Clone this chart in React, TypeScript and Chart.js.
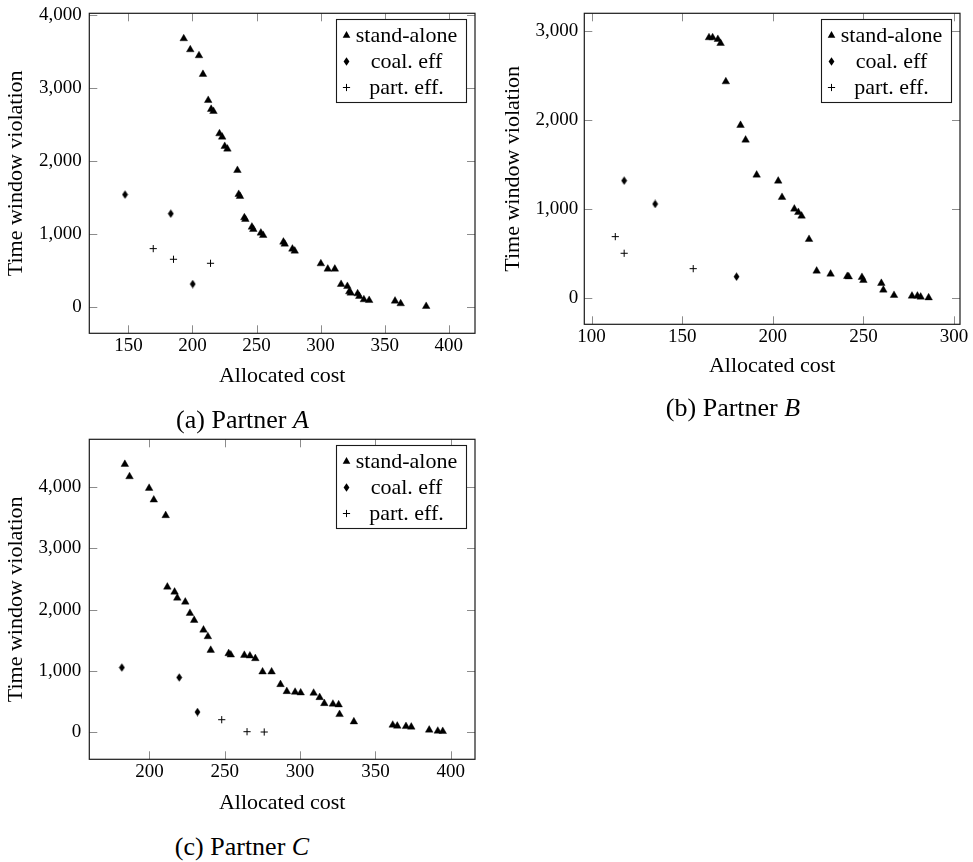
import React, { useEffect, useRef } from 'react';
import { Chart, registerables } from 'chart.js';
Chart.register(...registerables);

// ---------- text ----------
const seriesLabels = ['stand-alone', 'coal. eff', 'part. eff.'];
const xAxisTitle = 'Allocated cost';
const yAxisTitle = 'Time window violation';

// ---------- Partner A ----------
const aStandCost = [193.2, 198.3, 205.1, 208.2, 212.3, 214.6, 216.4, 221.1, 223.2, 225.2, 227.3, 235.1, 236.1, 237.1, 240.5, 241.3, 246.4, 247.5, 253.4, 255.2, 271.0, 272.0, 278.0, 279.8, 300.2, 305.6, 311.1, 316.0, 320.9, 322.4, 323.5, 328.9, 330.2, 333.8, 337.9, 358.1, 362.5, 382.4];
const aStandViol = [3680, 3529, 3447, 3191, 2834, 2711, 2683, 2377, 2331, 2203, 2167, 1874, 1545, 1518, 1225, 1202, 1097, 1065, 1015, 983, 891, 864, 795, 768, 594, 521, 521, 311, 283, 210, 192, 183, 146, 101, 91, 82, 46, 9];
const aCoalCost = [147.4, 183.1, 200.2];
const aCoalViol = [1541, 1280, 315];
const aPartCost = [169.4, 185.2, 214.1];
const aPartViol = [800, 654, 599];
const aXRange = [119.5, 420.5];
const aYRange = [-361, 4027];
const aXTicks = [150, 200, 250, 300, 350, 400];
const aYTicks = [0, 1000, 2000, 3000, 4000];

// ---------- Partner B ----------
const bStandCost = [164.8, 166.8, 169.7, 171.2, 174.1, 182.2, 185.0, 191.1, 203.0, 205.1, 211.9, 214.1, 215.9, 220.0, 224.2, 231.9, 241.1, 241.9, 249.2, 250.0, 259.9, 261.0, 266.9, 276.8, 279.8, 281.6, 286.0];
const bStandViol = [2929, 2929, 2910, 2865, 2434, 1944, 1779, 1386, 1318, 1135, 1004, 966, 925, 663, 307, 273, 247, 243, 236, 202, 169, 94, 34, 26, 26, 15, 7];
const bCoalCost = [118.0, 135.1, 180.0];
const bCoalViol = [1322, 1060, 243];
const bPartCost = [113.1, 118.0, 156.1];
const bPartViol = [693, 506, 333];
const bXRange = [96, 303.3];
const bYRange = [-292, 3202];
const bXTicks = [100, 150, 200, 250, 300];
const bYTicks = [0, 1000, 2000, 3000];

// ---------- Partner C ----------
const cStandCost = [183.7, 186.8, 199.8, 202.9, 210.8, 211.9, 216.7, 218.5, 223.8, 226.9, 229.7, 235.9, 238.8, 240.7, 252.6, 254.0, 263.0, 266.7, 270.3, 275.1, 281.1, 287.0, 291.2, 296.7, 300.4, 309.0, 313.0, 316.1, 321.8, 325.6, 326.2, 335.7, 361.5, 364.5, 370.3, 373.8, 385.7, 391.4, 394.7];
const cStandViol = [4375, 4174, 3984, 3793, 3538, 2370, 2288, 2190, 2125, 1940, 1826, 1668, 1560, 1337, 1283, 1261, 1255, 1245, 1201, 984, 984, 777, 663, 652, 641, 636, 565, 467, 457, 446, 288, 168, 114, 98, 92, 82, 33, 16, 11];
const cCoalCost = [181.7, 219.8, 231.9];
const cCoalViol = [1054, 891, 326];
const cPartCost = [248.0, 264.8, 276.2];
const cPartViol = [201, 5, 0];
const cXRange = [160.1, 416.1];
const cYRange = [-446, 4783];
const cXTicks = [200, 250, 300, 350, 400];
const cYTicks = [0, 1000, 2000, 3000, 4000];

const SERIF = '"Liberation Serif", "Times New Roman", serif';
const TITLE_SIZE = 22;
const TICK_SIZE = 19;
const LEGEND_SIZE = 22;
const CAPTION_SIZE = 26;

type Geo = {
  left: number; top: number; width: number; height: number;
  plotLeft: number; plotTop: number; plotRight: number; plotBottom: number;
  yTitleX: number; xTitleY: number; yTickPad: number;
};

type PanelData = {
  standX: number[]; standY: number[];
  coalX: number[]; coalY: number[];
  partX: number[]; partY: number[];
  xRange: number[]; yRange: number[];
  xTicks: number[]; yTicks: number[];
};

function makeDiamond(): HTMLCanvasElement {
  const c = document.createElement('canvas');
  c.width = 7; c.height = 9;
  const g = c.getContext('2d')!;
  g.fillStyle = '#000';
  g.beginPath();
  g.moveTo(3.5, 0.2); g.lineTo(6.4, 4.5); g.lineTo(3.5, 8.8); g.lineTo(0.6, 4.5);
  g.closePath(); g.fill();
  return c;
}

function drawMarker(ctx: CanvasRenderingContext2D, ds: any, x: number, y: number) {
  const st = ds.pointStyle;
  const r = ds.pointRadius;
  ctx.save();
  if (st === 'triangle') {
    ctx.fillStyle = '#000';
    ctx.beginPath();
    ctx.moveTo(x, y - r);
    ctx.lineTo(x + 0.866 * r, y + 0.5 * r);
    ctx.lineTo(x - 0.866 * r, y + 0.5 * r);
    ctx.closePath(); ctx.fill();
  } else if (st === 'cross') {
    ctx.strokeStyle = '#000'; ctx.lineWidth = 1;
    ctx.beginPath();
    ctx.moveTo(x - r, y); ctx.lineTo(x + r, y);
    ctx.moveTo(x, y - r); ctx.lineTo(x, y + r);
    ctx.stroke();
  } else if (st && st.width) {
    ctx.drawImage(st, x - st.width / 2, y - st.height / 2);
  }
  ctx.restore();
}

const framePlugin = {
  id: 'pgfFrame',
  beforeDatasetsDraw(chart: any) {
    const { ctx, chartArea: a, scales } = chart;
    const tl = 8;
    ctx.save();
    ctx.strokeStyle = '#8c8c8c';
    ctx.lineWidth = 1;
    ctx.beginPath();
    scales.x.ticks.forEach((t: any) => {
      const px = Math.round(scales.x.getPixelForValue(t.value)) + 0.5;
      ctx.moveTo(px, a.bottom); ctx.lineTo(px, a.bottom - tl);
      ctx.moveTo(px, a.top); ctx.lineTo(px, a.top + tl);
    });
    scales.y.ticks.forEach((t: any) => {
      const py = Math.round(scales.y.getPixelForValue(t.value)) + 0.5;
      ctx.moveTo(a.left, py); ctx.lineTo(a.left + tl, py);
      ctx.moveTo(a.right, py); ctx.lineTo(a.right - tl, py);
    });
    ctx.stroke();
    ctx.restore();
  },
  afterDatasetsDraw(chart: any) {
    const { ctx, chartArea: a } = chart;
    ctx.save();
    ctx.strokeStyle = '#1a1a1a';
    ctx.lineWidth = 1.2;
    ctx.strokeRect(a.left, a.top, a.right - a.left, a.bottom - a.top);

    // legend box (pgfplots style, north east inside)
    const w = 130, h = 83;
    const x0 = Math.round(a.right - 9 - w) + 0.5;
    const y0 = Math.round(a.top + 6) + 0.5;
    ctx.fillStyle = '#fff';
    ctx.fillRect(x0, y0, w, h);
    ctx.lineWidth = 1.1;
    ctx.strokeRect(x0, y0, w, h);
    ctx.font = `${LEGEND_SIZE}px ${SERIF}`;
    ctx.fillStyle = '#000';
    ctx.textAlign = 'center';
    ctx.textBaseline = 'middle';
    chart.data.datasets.forEach((ds: any, i: number) => {
      const cy = y0 + 16 + 26 * i;
      drawMarker(ctx, ds, x0 + 10, cy);
      ctx.fillText(ds.label, x0 + 70, cy + 1);
    });
    ctx.restore();
  },
};

function Panel({ geo, data }: { geo: Geo; data: PanelData }) {
  const ref = useRef<HTMLCanvasElement>(null);
  useEffect(() => {
    const diamond = makeDiamond();
    const pts = (xs: number[], ys: number[]) => xs.map((x, i) => ({ x, y: ys[i] }));
    const zeroPad = (s: any) => { s.paddingLeft = 0; s.paddingRight = 0; s.paddingTop = 0; s.paddingBottom = 0; };
    const halfLine = (TITLE_SIZE * 1.2) / 2;
    const chart = new Chart(ref.current!, {
      type: 'scatter',
      data: {
        datasets: [
          { label: seriesLabels[0], data: pts(data.standX, data.standY), pointStyle: 'triangle', pointRadius: 4.4, backgroundColor: '#000', borderColor: '#000', borderWidth: 0.4 },
          { label: seriesLabels[1], data: pts(data.coalX, data.coalY), pointStyle: diamond as any, pointRadius: 4, backgroundColor: '#000', borderColor: '#000' },
          { label: seriesLabels[2], data: pts(data.partX, data.partY), pointStyle: 'cross', pointRadius: 3.6, backgroundColor: '#000', borderColor: '#000', borderWidth: 1 },
        ] as any,
      },
      options: {
        animation: false,
        responsive: false,
        events: [],
        layout: { padding: { left: 0, top: geo.plotTop, right: geo.width - geo.plotRight, bottom: 0 } },
        plugins: { legend: { display: false }, tooltip: { enabled: false } },
        scales: {
          x: {
            type: 'linear', position: 'bottom',
            min: data.xRange[0], max: data.xRange[1],
            grid: { display: false, drawTicks: false },
            border: { display: false },
            afterBuildTicks: (s: any) => { s.ticks = data.xTicks.map((v) => ({ value: v })); },
            ticks: { autoSkip: false, maxRotation: 0, padding: 1, color: '#000', font: { family: SERIF, size: TICK_SIZE } },
            title: { display: true, text: xAxisTitle, color: '#000', font: { family: SERIF, size: TITLE_SIZE }, padding: { top: 0, bottom: geo.height - geo.xTitleY - halfLine } },
            afterFit: (s: any) => { s.height = geo.height - geo.plotBottom; zeroPad(s); },
          },
          y: {
            type: 'linear', position: 'left',
            min: data.yRange[0], max: data.yRange[1],
            grid: { display: false, drawTicks: false },
            border: { display: false },
            afterBuildTicks: (s: any) => { s.ticks = data.yTicks.map((v) => ({ value: v })); },
            ticks: { autoSkip: false, padding: geo.yTickPad, color: '#000', font: { family: SERIF, size: TICK_SIZE }, callback: (v: any) => Number(v).toLocaleString('en-US') },
            title: { display: true, text: yAxisTitle, color: '#000', font: { family: SERIF, size: TITLE_SIZE }, padding: { top: geo.yTitleX - halfLine, bottom: 0 } },
            afterFit: (s: any) => { s.width = geo.plotLeft; zeroPad(s); },
          },
        },
      } as any,
      plugins: [framePlugin as any],
    });
    return () => chart.destroy();
  }, []);
  return (
    <canvas
      ref={ref}
      width={geo.width}
      height={geo.height}
      style={{ position: 'absolute', left: geo.left, top: geo.top, width: geo.width, height: geo.height }}
    />
  );
}

function Caption({ x, y, tag, letter }: { x: number; y: number; tag: string; letter: string }) {
  return (
    <div style={{ position: 'absolute', left: x, top: y, transform: 'translate(-50%, -50%)', whiteSpace: 'nowrap', fontFamily: SERIF, fontSize: CAPTION_SIZE, color: '#000', lineHeight: 1 }}>
      ({tag}) Partner <i>{letter}</i>
    </div>
  );
}

const geoA: Geo = { left: 0, top: 0, width: 480, height: 395, plotLeft: 89.3, plotTop: 13.3, plotRight: 476.7, plotBottom: 333.3, yTitleX: 16.7, xTitleY: 376.7, yTickPad: 7.6 };
const geoB: Geo = { left: 480, top: 0, width: 493, height: 395, plotLeft: 104.3, plotTop: 13.3, plotRight: 480, plotBottom: 324.3, yTitleX: 33.3, xTitleY: 366.7, yTickPad: 6 };
const geoC: Geo = { left: 0, top: 430, width: 480, height: 395, plotLeft: 89.3, plotTop: 9.3, plotRight: 476.7, plotBottom: 329.3, yTitleX: 16.7, xTitleY: 373, yTickPad: 8 };

export default function App() {
  return (
    <div style={{ position: 'absolute', left: 0, top: 0, width: 973, height: 862, background: '#fff', overflow: 'hidden' }}>
      <Panel geo={geoA} data={{ standX: aStandCost, standY: aStandViol, coalX: aCoalCost, coalY: aCoalViol, partX: aPartCost, partY: aPartViol, xRange: aXRange, yRange: aYRange, xTicks: aXTicks, yTicks: aYTicks }} />
      <Panel geo={geoB} data={{ standX: bStandCost, standY: bStandViol, coalX: bCoalCost, coalY: bCoalViol, partX: bPartCost, partY: bPartViol, xRange: bXRange, yRange: bYRange, xTicks: bXTicks, yTicks: bYTicks }} />
      <Panel geo={geoC} data={{ standX: cStandCost, standY: cStandViol, coalX: cCoalCost, coalY: cCoalViol, partX: cPartCost, partY: cPartViol, xRange: cXRange, yRange: cYRange, xTicks: cXTicks, yTicks: cYTicks }} />
      <Caption x={242.5} y={420} tag="a" letter="A" />
      <Caption x={733} y={408} tag="b" letter="B" />
      <Caption x={242} y={846.7} tag="c" letter="C" />
    </div>
  );
}
